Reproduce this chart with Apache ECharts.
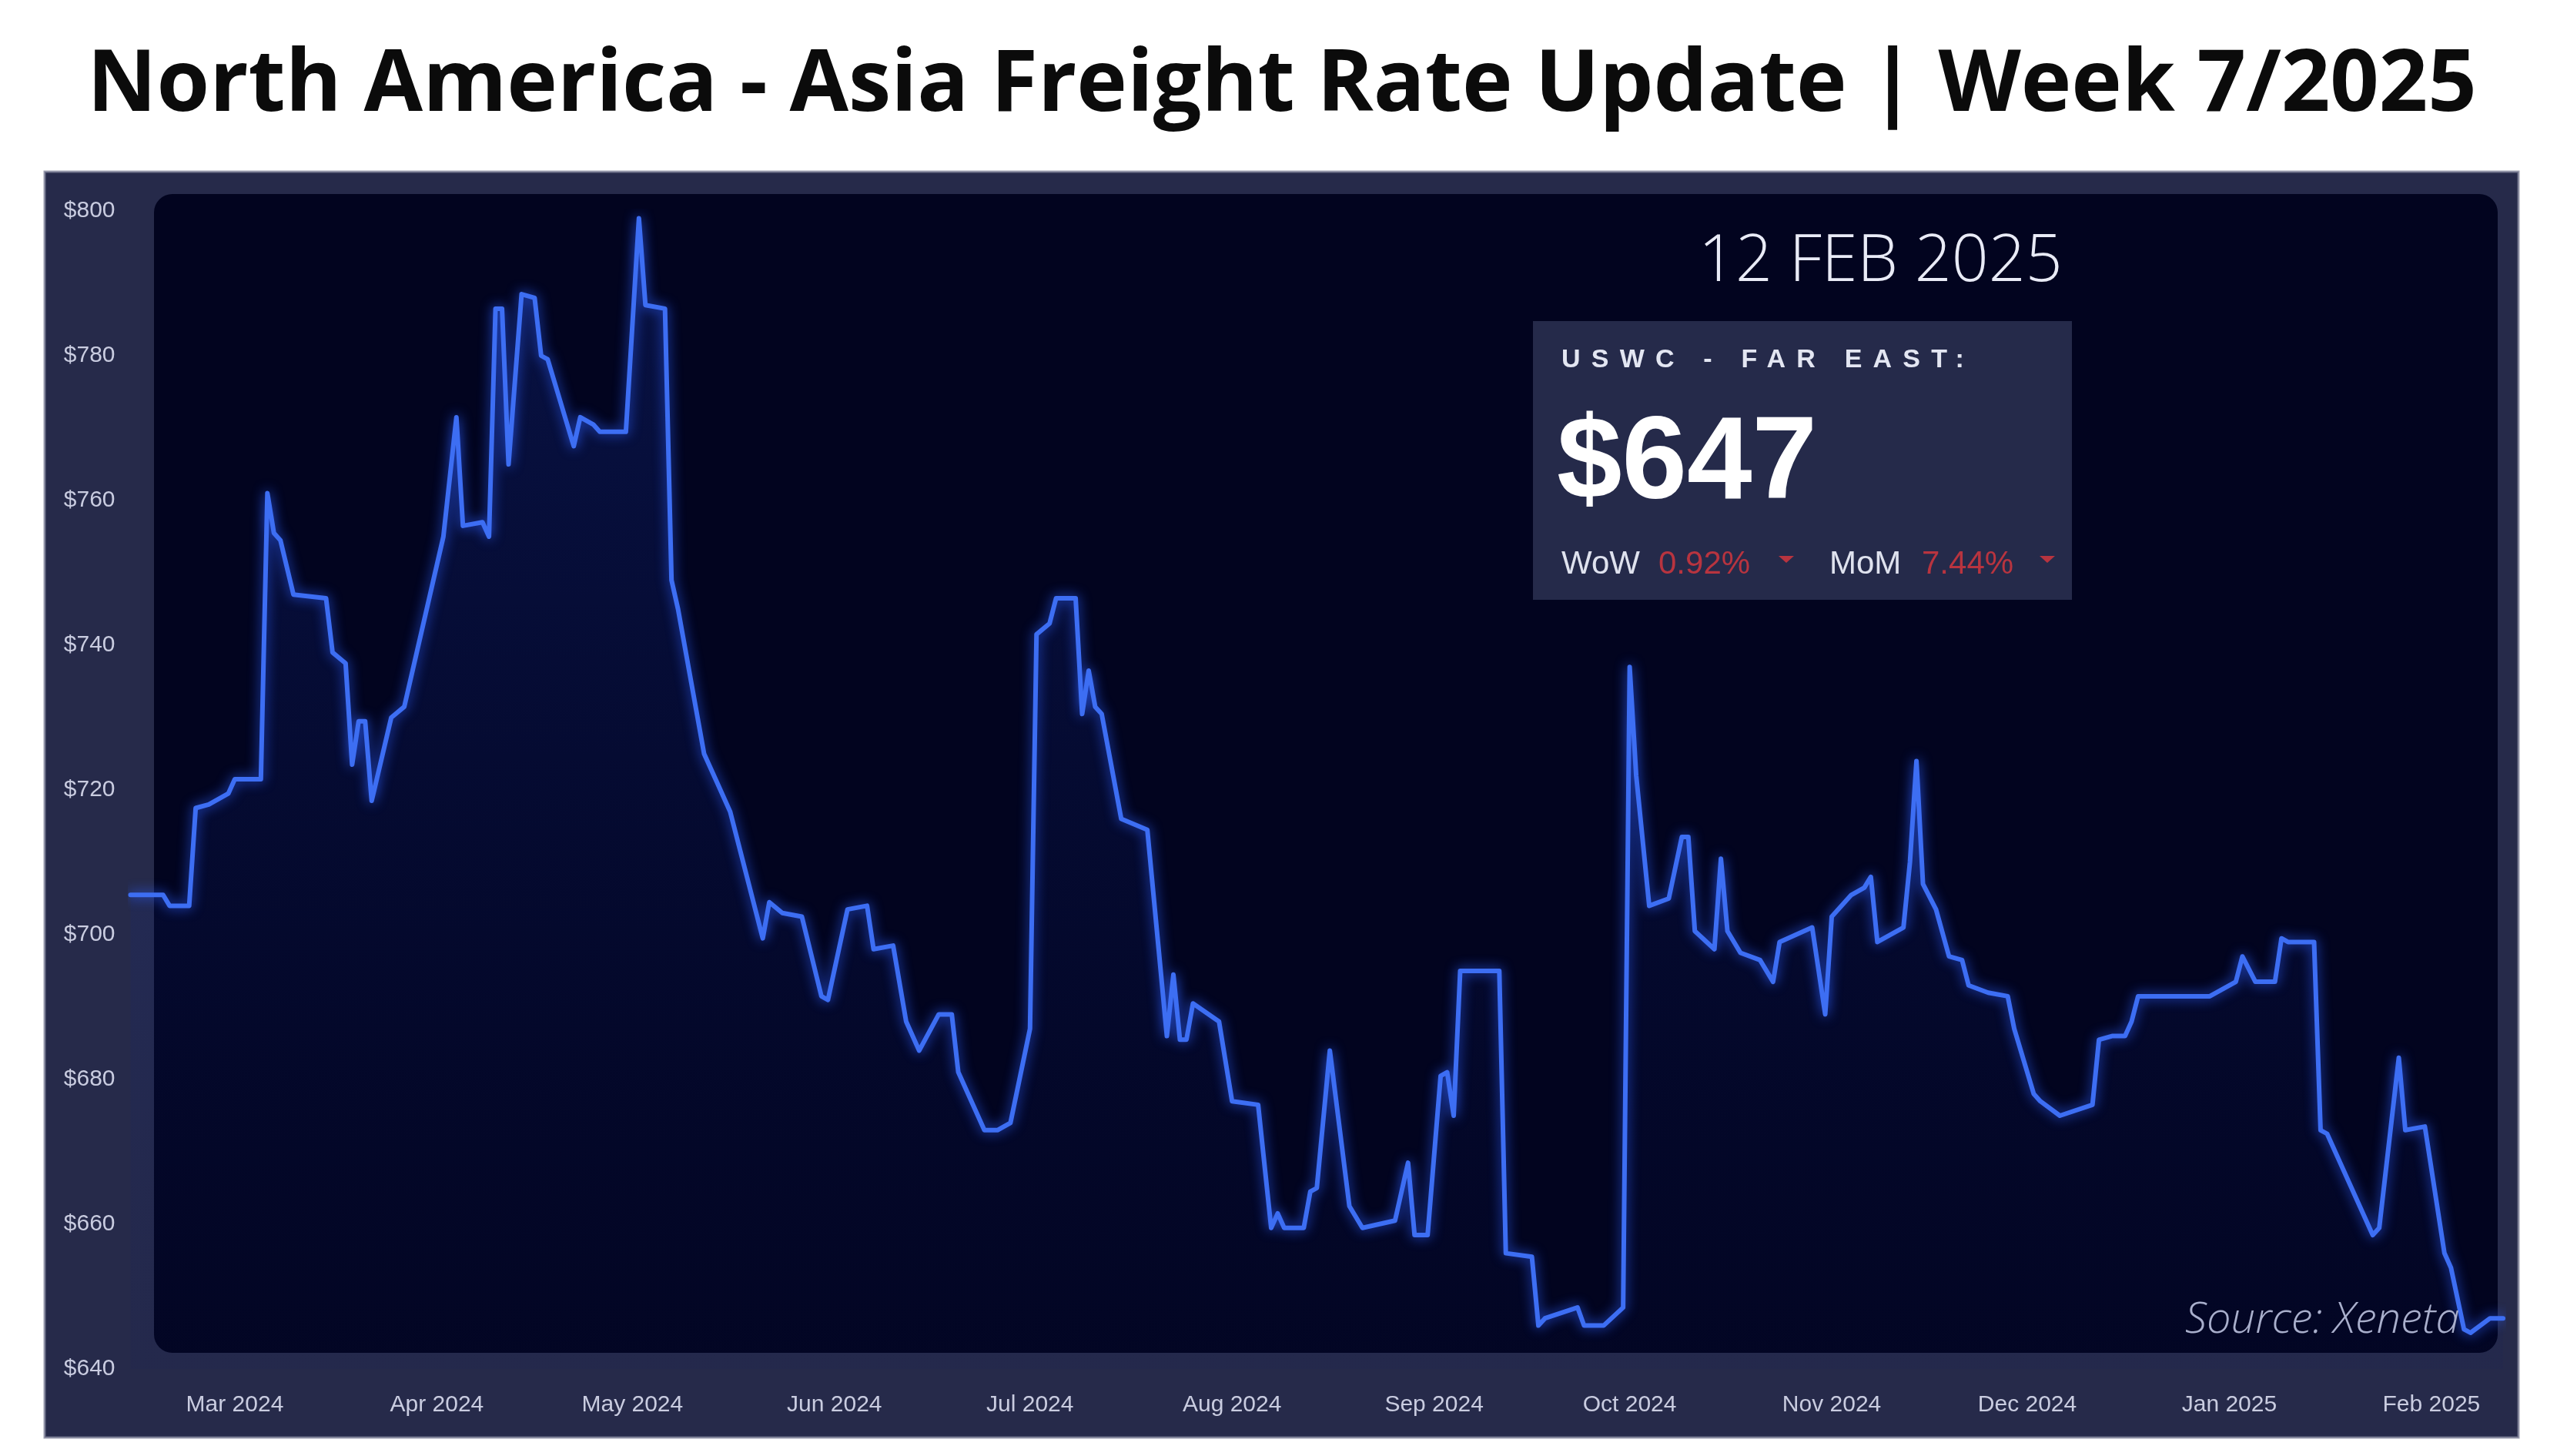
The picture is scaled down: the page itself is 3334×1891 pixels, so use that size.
<!DOCTYPE html>
<html>
<head>
<meta charset="utf-8">
<script src="https://cdn.jsdelivr.net/npm/echarts@6.0.0/dist/echarts.min.js"></script>
<style>
html,body{margin:0;padding:0;background:#ffffff;}
#wrap{position:relative;width:3334px;height:1891px;overflow:hidden;}
#chart{position:absolute;left:0;top:0;width:3334px;height:1891px;}
#lane{position:absolute;left:2028px;top:448px;font-family:'Liberation Sans',Arial,sans-serif;font-weight:bold;font-size:34px;line-height:34px;letter-spacing:14.2px;color:#e3e6f2;white-space:nowrap;z-index:10;}
</style>
</head>
<body>
<div id="wrap">
<div id="chart"></div>
<div id="lane">USWC - FAR EAST:</div>
</div>
<script>
// ---- data ----
const dates = [
'2024-02-14','2024-02-19','2024-02-20','2024-02-23','2024-02-24','2024-02-26','2024-02-29','2024-03-01','2024-03-05','2024-03-06',
'2024-03-07','2024-03-08','2024-03-10','2024-03-15','2024-03-16','2024-03-18','2024-03-19','2024-03-20','2024-03-21','2024-03-22',
'2024-03-25','2024-03-27','2024-04-02','2024-04-04','2024-04-05','2024-04-08','2024-04-09','2024-04-10','2024-04-11','2024-04-12',
'2024-04-14','2024-04-16','2024-04-17','2024-04-18','2024-04-22','2024-04-23','2024-04-25','2024-04-26','2024-04-30','2024-05-02',
'2024-05-03','2024-05-06','2024-05-07','2024-05-08','2024-05-12','2024-05-14','2024-05-16','2024-05-21','2024-05-22','2024-05-24',
'2024-05-27','2024-05-30','2024-05-31','2024-06-03','2024-06-06','2024-06-07','2024-06-10','2024-06-12','2024-06-14','2024-06-17',
'2024-06-19','2024-06-20','2024-06-24','2024-06-26','2024-06-28','2024-07-01','2024-07-02','2024-07-04','2024-07-05','2024-07-08',
'2024-07-09','2024-07-10','2024-07-11','2024-07-12','2024-07-15','2024-07-19','2024-07-22','2024-07-23','2024-07-24','2024-07-25',
'2024-07-26','2024-07-30','2024-08-01','2024-08-05','2024-08-07','2024-08-08','2024-08-09','2024-08-12','2024-08-13','2024-08-14',
'2024-08-16','2024-08-19','2024-08-21','2024-08-26','2024-08-28','2024-08-29','2024-08-31','2024-09-02','2024-09-03','2024-09-04',
'2024-09-05','2024-09-11','2024-09-12','2024-09-16','2024-09-17','2024-09-18','2024-09-23','2024-09-24','2024-09-27','2024-09-30',
'2024-10-01','2024-10-02','2024-10-04','2024-10-07','2024-10-09','2024-10-10','2024-10-11','2024-10-14','2024-10-15','2024-10-16',
'2024-10-18','2024-10-21','2024-10-23','2024-10-24','2024-10-29','2024-10-31','2024-11-01','2024-11-04','2024-11-06','2024-11-07',
'2024-11-08','2024-11-12','2024-11-13','2024-11-14','2024-11-15','2024-11-17','2024-11-19','2024-11-21','2024-11-22','2024-11-25',
'2024-11-28','2024-11-29','2024-12-02','2024-12-03','2024-12-06','2024-12-11','2024-12-12','2024-12-14','2024-12-16','2024-12-17',
'2024-12-18','2024-12-29','2025-01-02','2025-01-03','2025-01-05','2025-01-08','2025-01-09','2025-01-10','2025-01-14','2025-01-15',
'2025-01-16','2025-01-23','2025-01-24','2025-01-27','2025-01-28','2025-01-31','2025-02-03','2025-02-04','2025-02-06','2025-02-07',
'2025-02-10','2025-02-12'
];
const rates = [
705.5,705.5,704,704,717.5,718,719.5,721.5,721.5,761,
755.5,754.5,747,746.5,739,737.5,723.5,729.5,729.5,718.5,
730,731.5,755,771.5,756.5,757,755,786.5,786.5,765,
788.5,788,780,779.5,767.5,771.5,770.5,769.5,769.5,799,
787,786.5,749,745,725,721,717,699.5,704.5,703,
702.5,691.5,691,703.5,704,698,698.5,688,684,689,
689,681,673,673,674,687,741.5,743,746.5,746.5,
730.5,736.5,731.5,730.5,716,714.5,686,694.5,685.5,685.5,
690.5,688,677,676.5,659.5,661.5,659.5,659.5,664.5,665,
684,662.5,659.5,660.5,668.5,658.5,658.5,680.5,681,675,
695,695,656,655.5,646,647,648.5,646,646,648.5,
737,722,704,705,713.5,713.5,700.5,698,710.5,700.5,
697.5,696.5,693.5,699,701,689,702.5,705.5,706.5,708,
699,701,710,724,707,703.5,697,696.5,693,692,
691.5,687,678,677,675,676.5,685.5,686,686,688,
691.5,691.5,693.5,697,693.5,693.5,699.5,699,699,673,
672.5,658.5,659.5,683,673,673.5,656,654,645.5,645,
647,647
];
const monthTicks = ['2024-03-01','2024-04-01','2024-05-01','2024-06-01','2024-07-01','2024-08-01','2024-09-01','2024-10-01','2024-11-01','2024-12-01','2025-01-01','2025-02-01'];
const monthLabels = ['Mar 2024','Apr 2024','May 2024','Jun 2024','Jul 2024','Aug 2024','Sep 2024','Oct 2024','Nov 2024','Dec 2024','Jan 2025','Feb 2025'];
const axisStart = '2024-02-14';
const axisEnd = '2025-02-12';
const yMin = 640, yMax = 800, yStep = 20;
const chartTitle = 'North America - Asia Freight Rate Update | Week 7/2025';
const stampDate = '12 FEB 2025';
const currentRate = '$647';
const wowChange = '0.92%';
const momChange = '7.44%';
const sourceNote = 'Source: Xeneta';

// day number (UTC) so the x scale is a plain linear day count
function dayNum(s){const p=s.split('-');return Date.UTC(+p[0],+p[1]-1,+p[2])/86400000;}
const seriesData = dates.map((d,i)=>[dayNum(d), rates[i]]);
const tickDays = monthTicks.map(dayNum);
const labelMap = {};
tickDays.forEach((t,i)=>{labelMap[t]=monthLabels[i];});

const chart = echarts.init(document.getElementById('chart'), null, {renderer:'canvas', width:3334, height:1891});

const txt = (o)=>Object.assign({type:'text', z:40, silent:true}, o);

chart.setOption({
  animation:false,
  backgroundColor:'#ffffff',
  grid:{left:169.5, right:83, top:274, bottom:113, containLabel:false, outerBoundsMode:'none'},
  xAxis:{
    type:'value', min:dayNum(axisStart), max:dayNum(axisEnd), scale:true,
    axisLine:{show:false}, axisTick:{show:false}, splitLine:{show:false},
    axisLabel:{
      customValues: tickDays,
      formatter:function(v){ return labelMap[v] !== undefined ? labelMap[v] : ''; },
      color:'#c9cce0', fontSize:30, fontFamily:'Liberation Sans, Arial, sans-serif', margin:32,
      hideOverlap:false
    }
  },
  yAxis:{
    type:'value', min:yMin, max:yMax, interval:yStep,
    axisLine:{show:false}, axisTick:{show:false}, splitLine:{show:false},
    axisLabel:{formatter:function(v){return '$'+v;}, color:'#c9cce0', fontSize:30, fontFamily:'Liberation Sans, Arial, sans-serif', margin:20}
  },
  series:[{
    type:'line', data:seriesData, showSymbol:false, symbol:'none', z:5,
    lineStyle:{color:'#3d6ef3', width:6, shadowColor:'rgba(45,95,255,0.9)', shadowBlur:16, join:'round', cap:'round'},
    areaStyle:{color:new echarts.graphic.LinearGradient(0,0,0,1,[{offset:0,color:'rgba(28,60,175,0.38)'},{offset:1,color:'rgba(10,25,100,0.10)'}])}
  }],
  graphic:[
    {type:'rect', z:-20, silent:true, shape:{x:58,y:223,width:3213,height:1644}, style:{fill:'#262a4a', stroke:'rgba(130,132,155,0.8)', lineWidth:3}},
    {type:'rect', z:-19, silent:true, shape:{x:200,y:252,width:3044,height:1505,r:24}, style:{fill:'#02041f'}},
    {type:'rect', z:30, silent:true, shape:{x:1991,y:417,width:700,height:362}, style:{fill:'#252a4a'}},
    txt({style:{text:chartTitle, x:1665, y:112, fill:'#0b0b0b', fontFamily:'Open Sans', fontWeight:'bold', fontSize:111, align:'center', verticalAlign:'middle', textAlign:'center', textVerticalAlign:'middle'}}),
    txt({style:{text:stampDate, x:2206, y:341, fill:'#e9ebf6', fontFamily:'Open Sans', fontWeight:300, fontSize:84, align:'left', verticalAlign:'middle', textAlign:'left', textVerticalAlign:'middle'}}),
    txt({style:{text:currentRate, x:2022, y:605, fill:'#ffffff', fontFamily:'Liberation Sans', fontWeight:'bold', fontSize:152, align:'left', verticalAlign:'middle', textAlign:'left', textVerticalAlign:'middle'}}),
    txt({style:{text:'WoW', x:2028, y:733, fill:'#dfe2ee', fontFamily:'Liberation Sans', fontSize:42, align:'left', verticalAlign:'middle', textAlign:'left', textVerticalAlign:'middle'}}),
    txt({style:{text:wowChange, x:2154, y:733, fill:'#b8343f', fontFamily:'Liberation Sans', fontSize:42, align:'left', verticalAlign:'middle', textAlign:'left', textVerticalAlign:'middle'}}),
    {type:'polygon', z:40, silent:true, shape:{points:[[2310,722],[2330,722],[2320,731]]}, style:{fill:'#b8343f'}},
    txt({style:{text:'MoM', x:2376, y:733, fill:'#dfe2ee', fontFamily:'Liberation Sans', fontSize:42, align:'left', verticalAlign:'middle', textAlign:'left', textVerticalAlign:'middle'}}),
    txt({style:{text:momChange, x:2496, y:733, fill:'#b8343f', fontFamily:'Liberation Sans', fontSize:42, align:'left', verticalAlign:'middle', textAlign:'left', textVerticalAlign:'middle'}}),
    {type:'polygon', z:40, silent:true, shape:{points:[[2649,722],[2669,722],[2659,731]]}, style:{fill:'#b8343f'}},
    txt({style:{text:sourceNote, x:2838, y:1715, fill:'#a9afcc', fontFamily:'Open Sans', fontStyle:'italic', fontWeight:300, fontSize:56, align:'left', verticalAlign:'middle', textAlign:'left', textVerticalAlign:'middle'}})
  ]
});
</script>
</body>
</html>
